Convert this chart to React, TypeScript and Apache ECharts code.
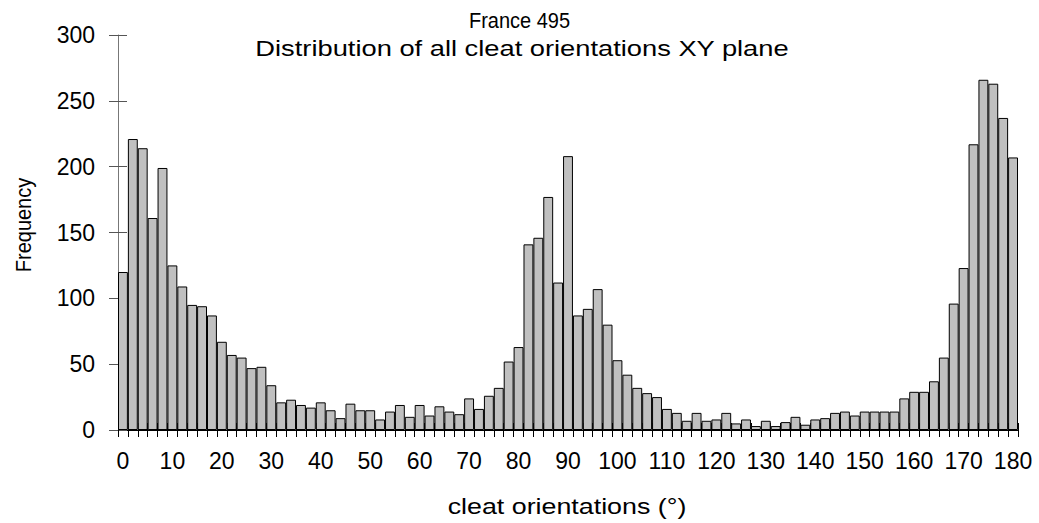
import React, { useEffect, useRef } from "react";
import * as echarts from "echarts";

const categories: string[] = [
  "0", "2", "4", "6", "8", "10", "12", "14", "16", "18",
  "20", "22", "24", "26", "28", "30", "32", "34", "36", "38",
  "40", "42", "44", "46", "48", "50", "52", "54", "56", "58",
  "60", "62", "64", "66", "68", "70", "72", "74", "76", "78",
  "80", "82", "84", "86", "88", "90", "92", "94", "96", "98",
  "100", "102", "104", "106", "108", "110", "112", "114", "116", "118",
  "120", "122", "124", "126", "128", "130", "132", "134", "136", "138",
  "140", "142", "144", "146", "148", "150", "152", "154", "156", "158",
  "160", "162", "164", "166", "168", "170", "172", "174", "176", "178",
  "180",
];

const frequency: number[] = [
  120, 221, 214, 161, 199, 125, 109, 95, 94, 87,
  67, 57, 55, 47, 48, 34, 21, 23, 19, 17,
  21, 15, 9, 20, 15, 15, 8, 14, 19, 10,
  19, 11, 18, 14, 12, 24, 16, 26, 32, 52,
  63, 141, 146, 177, 112, 208, 87, 92, 107, 80,
  53, 42, 32, 28, 25, 16, 13, 7, 13, 7,
  8, 13, 5, 8, 3, 7, 3, 6, 10, 4,
  8, 9, 13, 14, 11, 14, 14, 14, 14, 24,
  29, 29, 37, 55, 96, 123, 217, 266, 263, 237,
  207,
];

const titleLine1 = "France 495";
const titleLine2 = "Distribution of all cleat orientations XY plane";
const xName = "cleat orientations (°)";
const yName = "Frequency";

const FONT = "Liberation Sans";

export default function App() {
  const ref = useRef<HTMLDivElement>(null);

  useEffect(() => {
    if (!ref.current) return;
    const chart = echarts.init(ref.current, null, { renderer: "svg" });
    const grid = { left: 118, right: 21, top: 35, bottom: 93 };
    const txt = (text: string, size: number) => ({
      text,
      fontSize: size,
      fontFamily: FONT,
      fill: "#000",
      align: "center",
      verticalAlign: "middle",
    });
    chart.setOption({
      animation: false,
      backgroundColor: "#ffffff",
      grid,
      graphic: [
        { type: "text", x: 519.5, y: 20, scaleY: 1.08, style: txt(titleLine1, 20) },
        { type: "text", x: 522, y: 48, scaleX: 1.3, scaleY: 1.05, style: txt(titleLine2, 21) },
        { type: "text", x: 567, y: 506, scaleX: 1.22, style: txt(xName, 22) },
        { type: "text", x: 23, y: 225, rotation: Math.PI / 2, scaleY: 1.1, style: txt(yName, 20) },
      ],
      xAxis: [
        {
          type: "category",
          position: "bottom",
          data: categories,
          boundaryGap: true,
          axisLine: { show: true, lineStyle: { color: "#000", width: 1 } },
          axisTick: {
            show: true,
            interval: 0,
            alignWithLabel: false,
            length: 7,
            lineStyle: { color: "#000" },
          },
          axisLabel: {
            interval: 4,
            margin: 19,
            color: "#000",
            fontSize: 23,
            fontFamily: FONT,
          },
          splitLine: { show: false },
        },
        {
          type: "category",
          position: "bottom",
          data: categories,
          boundaryGap: true,
          axisLine: { show: false },
          axisTick: {
            show: true,
            inside: true,
            interval: 0,
            alignWithLabel: false,
            length: 7,
            lineStyle: { color: "#000" },
          },
          axisLabel: { show: false },
          splitLine: { show: false },
        },
      ],
      yAxis: [
        {
          type: "value",
          position: "left",
          min: 0,
          max: 300,
          interval: 50,
          axisLine: { show: true, lineStyle: { color: "#777", width: 1 } },
          axisTick: { show: true, length: 9, lineStyle: { color: "#555" } },
          axisLabel: {
            margin: 23,
            color: "#000",
            fontSize: 23,
            fontFamily: FONT,
          },
          splitLine: { show: false },
        },
        {
          type: "value",
          position: "left",
          min: 0,
          max: 300,
          interval: 50,
          axisLine: { show: false },
          axisTick: { show: true, inside: true, length: 9, lineStyle: { color: "#555" } },
          axisLabel: { show: false },
          splitLine: { show: false },
        },
      ],
      series: [
        {
          type: "bar",
          xAxisIndex: 0,
          yAxisIndex: 0,
          data: frequency,
          barCategoryGap: "0%",
          itemStyle: {
            color: "#c0c0c0",
            borderColor: "#000",
            borderWidth: 1,
          },
          emphasis: { disabled: true },
        },
      ],
    });
    return () => chart.dispose();
  }, []);

  return (
    <div
      ref={ref}
      style={{ position: "fixed", left: 0, top: 0, width: 1039, height: 523 }}
    />
  );
}
